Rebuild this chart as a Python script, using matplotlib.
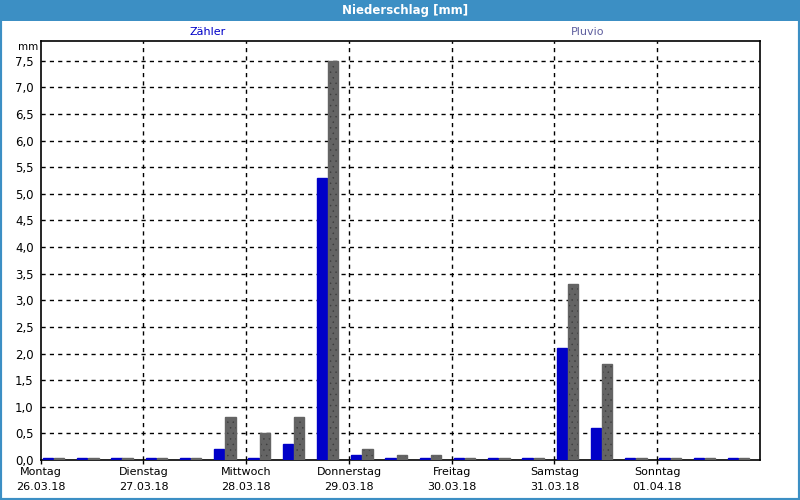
"""
plot.py
-------
Niederschlag [mm] por intervalos de 8 horas, Zähler vs Pluvio.
"""

import numpy as np
import matplotlib.pyplot as plt
from matplotlib.patches import Rectangle

# Días y fechas (etiquetas eje x)
dias   = ['Montag', 'Dienstag', 'Mittwoch', 'Donnerstag', 'Freitag', 'Samstag', 'Sonntag']
fechas = ['26.03.18', '27.03.18', '28.03.18', '29.03.18', '30.03.18', '31.03.18', '01.04.18']

# Intervalos de 8 h (3 por día), valores en mm
zaehler = [0.0, 0.0, 0.0,
           0.0, 0.0, 0.2,
           0.0, 0.3, 5.3,
           0.1, 0.0, 0.0,
           0.0, 0.0, 0.0,
           2.1, 0.6, 0.0,
           0.0, 0.0, 0.0]
pluvio  = [0.0, 0.0, 0.0,
           0.0, 0.0, 0.8,
           0.5, 0.8, 7.5,
           0.2, 0.1, 0.1,
           0.0, 0.0, 0.0,
           3.3, 1.8, 0.0,
           0.0, 0.0, 0.0]

y_ticks = np.arange(0, 7.51, 0.5)

azul_titulo = '#3c8fc4'
azul_bar    = '#0000c8'
gris_bar    = '#646464'

plt.rcParams['hatch.linewidth'] = 0.3

fig = plt.figure(figsize=(8, 5), dpi=100)
fig.patch.set_facecolor('white')

# Barra de título y marco
fig.patches.append(Rectangle((0, 0.958), 1, 0.042, transform=fig.transFigure,
                             facecolor=azul_titulo, edgecolor='none', zorder=0))
fig.patches.append(Rectangle((0, 0), 1, 1, transform=fig.transFigure,
                             facecolor='none', edgecolor=azul_titulo,
                             linewidth=3, zorder=5))
fig.text(0.506, 0.979, 'Niederschlag [mm]', color='white', fontsize=8.5,
         fontweight='bold', ha='center', va='center')

ax = fig.add_axes([0.0509, 0.08, 0.8991, 0.8386])

n = len(zaehler)
x0 = np.arange(n) * 8
# los ceros se dibujan como una línea fina sobre el eje
h_min = 0.04
h_z = np.maximum(zaehler, h_min)
h_p = np.maximum(pluvio, h_min)

ax.bar(x0 + 0.5, h_z, width=2.4, align='edge', color=azul_bar,
       edgecolor=azul_bar, linewidth=1, zorder=4)
ax.bar(x0 + 3.1, h_p, width=2.4, align='edge', color=gris_bar,
       edgecolor='#3a3a3a', hatch='...', linewidth=0, zorder=4)
ax.bar(x0 + 3.1, h_p, width=2.4, align='edge', color='none',
       edgecolor=gris_bar, linewidth=1, zorder=4)

ax.set_xlim(0, 168)
ax.set_ylim(0, 7.875)

ax.set_yticks(y_ticks)
ax.set_yticklabels([f'{v:.1f}'.replace('.', ',') for v in y_ticks], fontsize=8.5)
ax.set_xticks(np.arange(7) * 24)
ax.set_xticklabels([f'{d}\n{f}' for d, f in zip(dias, fechas)], fontsize=8,
                   linespacing=1.6)
ax.tick_params(axis='y', length=0, pad=5)
ax.tick_params(axis='x', length=3, width=1, pad=2, direction='out')

for v in y_ticks[1:]:
    ax.axhline(v, color='black', linewidth=1, linestyle=(0, (3, 3)), zorder=1)
for d in range(1, 7):
    ax.axvline(d * 24, color='black', linewidth=1, linestyle=(0, (3, 3)), zorder=1)

for s in ax.spines.values():
    s.set_linewidth(1.2)
    s.set_color('black')
    s.set_zorder(3)

fig.text(0.035, 0.906, 'mm', fontsize=7.5, ha='center', va='center')
fig.text(0.26, 0.936, 'Zähler', color=azul_bar, fontsize=8, ha='center', va='center')
fig.text(0.735, 0.936, 'Pluvio', color='#5f5f9f', fontsize=8, ha='center', va='center')

fig.savefig('out.png', dpi=100)
